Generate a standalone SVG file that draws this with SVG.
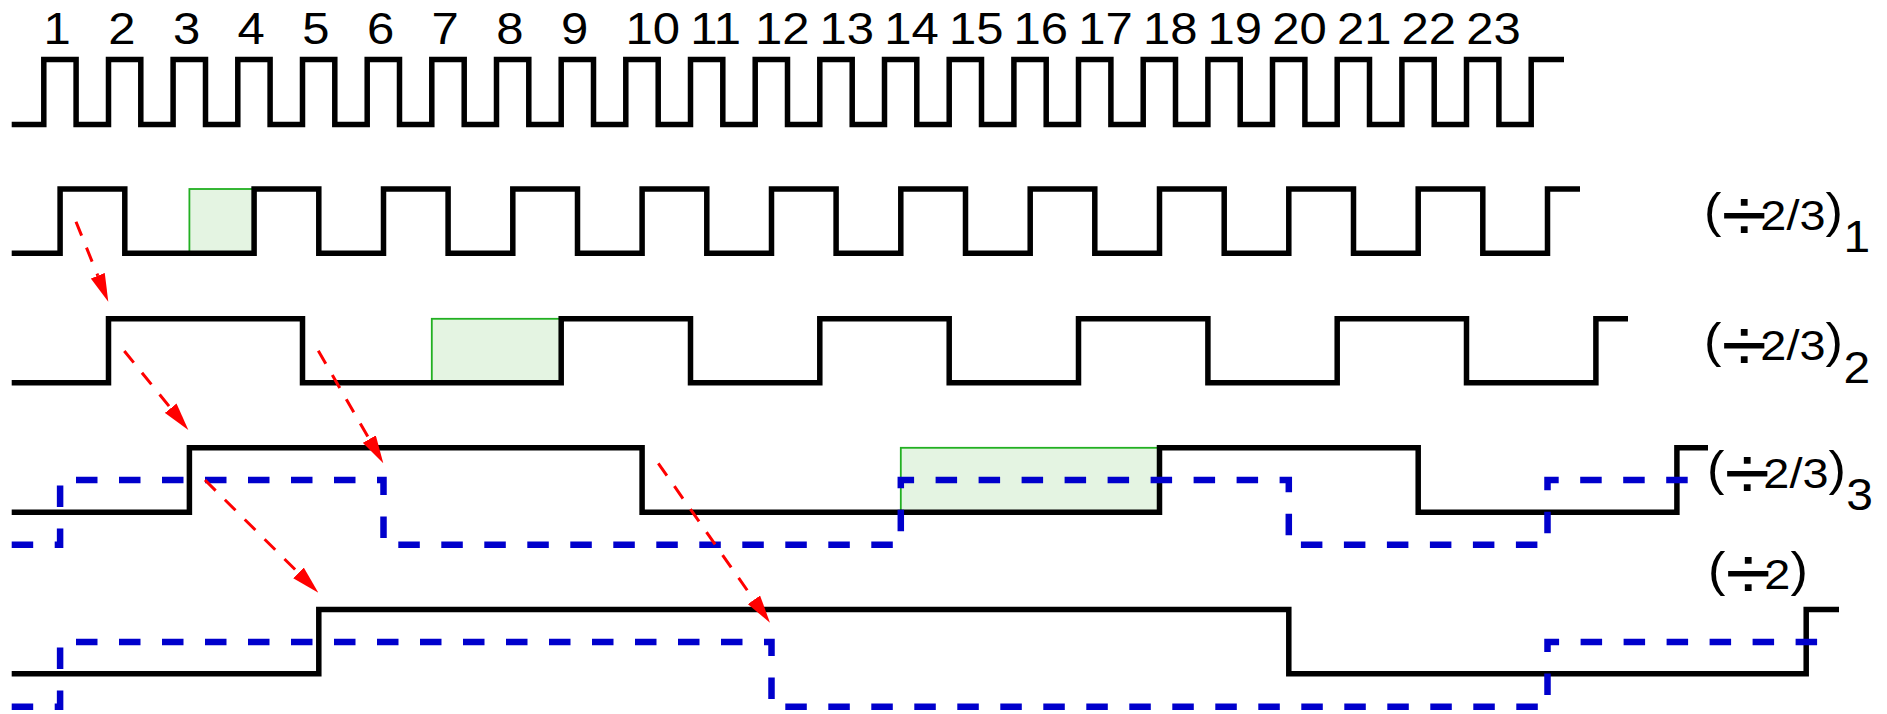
<svg xmlns="http://www.w3.org/2000/svg" width="1887" height="714" viewBox="0 0 1887 714">
  <style>
    .sig { fill: none; stroke: #000; stroke-width: 5.5; stroke-linejoin: miter; stroke-linecap: butt; }
    .alt { fill: none; stroke: #0000cc; stroke-width: 6.5; stroke-dasharray: 21.5 21.5; stroke-linecap: butt; stroke-linejoin: miter; }
    .win { fill: #e4f4e2; stroke: #22b022; stroke-width: 1.8; }
    .dep { fill: none; stroke: #ff0000; stroke-width: 3; stroke-dasharray: 15 13; }
    .n { font-family: "Liberation Sans", Arial, sans-serif; font-size: 45px; fill: #000; }
    .lbl { font-family: "Liberation Sans", Arial, sans-serif; font-size: 43px; fill: #000; }
    .par { font-size: 48px; }
    .div { font-size: 76px; letter-spacing: -6px; }
    .sub { font-size: 44px; }
  </style>
  <defs>
    <marker id="ah" markerUnits="userSpaceOnUse" viewBox="0 0 28 15" markerWidth="28" markerHeight="15" refX="0" refY="7.5" orient="auto">
      <path d="M0,0 L28,7.5 L0,15 z" fill="#ff0000"/>
    </marker>
  </defs>

  <rect width="1887" height="714" fill="#fff"/>

  <!-- input clock with cycle numbers -->
  <g id="clock">
    <g>
      <text class="n" transform="translate(43.5,43.5) scale(1.09,1)">1</text>
      <text class="n" transform="translate(108.2,43.5) scale(1.09,1)">2</text>
      <text class="n" transform="translate(172.9,43.5) scale(1.09,1)">3</text>
      <text class="n" transform="translate(237.5,43.5) scale(1.09,1)">4</text>
      <text class="n" transform="translate(302.2,43.5) scale(1.09,1)">5</text>
      <text class="n" transform="translate(366.9,43.5) scale(1.09,1)">6</text>
      <text class="n" transform="translate(431.5,43.5) scale(1.09,1)">7</text>
      <text class="n" transform="translate(496.2,43.5) scale(1.09,1)">8</text>
      <text class="n" transform="translate(560.9,43.5) scale(1.09,1)">9</text>
      <text class="n" transform="translate(625.5,43.5) scale(1.09,1)">10</text>
      <text class="n" transform="translate(690.2,43.5) scale(1.09,1)">11</text>
      <text class="n" transform="translate(754.9,43.5) scale(1.09,1)">12</text>
      <text class="n" transform="translate(819.5,43.5) scale(1.09,1)">13</text>
      <text class="n" transform="translate(884.2,43.5) scale(1.09,1)">14</text>
      <text class="n" transform="translate(948.9,43.5) scale(1.09,1)">15</text>
      <text class="n" transform="translate(1013.6,43.5) scale(1.09,1)">16</text>
      <text class="n" transform="translate(1078.2,43.5) scale(1.09,1)">17</text>
      <text class="n" transform="translate(1142.9,43.5) scale(1.09,1)">18</text>
      <text class="n" transform="translate(1207.6,43.5) scale(1.09,1)">19</text>
      <text class="n" transform="translate(1272.2,43.5) scale(1.09,1)">20</text>
      <text class="n" transform="translate(1336.9,43.5) scale(1.09,1)">21</text>
      <text class="n" transform="translate(1401.6,43.5) scale(1.09,1)">22</text>
      <text class="n" transform="translate(1466.2,43.5) scale(1.09,1)">23</text>
    </g>
    <path class="sig" d="M11.7,124.5 H43.8 V59.5 H76.1 V124.5 H108.5 V59.5 H140.8 V124.5 H173.1 V59.5 H205.5 V124.5 H237.8 V59.5 H270.1 V124.5 H302.5 V59.5 H334.8 V124.5 H367.2 V59.5 H399.5 V124.5 H431.8 V59.5 H464.2 V124.5 H496.5 V59.5 H528.8 V124.5 H561.2 V59.5 H593.5 V124.5 H625.8 V59.5 H658.2 V124.5 H690.5 V59.5 H722.8 V124.5 H755.2 V59.5 H787.5 V124.5 H819.8 V59.5 H852.2 V124.5 H884.5 V59.5 H916.8 V124.5 H949.2 V59.5 H981.5 V124.5 H1013.9 V59.5 H1046.2 V124.5 H1078.5 V59.5 H1110.9 V124.5 H1143.2 V59.5 H1175.5 V124.5 H1207.9 V59.5 H1240.2 V124.5 H1272.5 V59.5 H1304.9 V124.5 H1337.2 V59.5 H1369.5 V124.5 H1401.9 V59.5 H1434.2 V124.5 H1466.5 V59.5 H1498.9 V124.5 H1531.2 V59.5 H1564"/>
  </g>

  <!-- first 2/3 stage -->
  <g id="stage1">
    <rect class="win" x="189.4" y="189" width="64.7" height="64.3"/>
    <path class="sig" d="M11.7,253.3 H60.1 V189 H124.8 V253.3 H254.1 V189 H318.8 V253.3 H383.5 V189 H448.1 V253.3 H512.8 V189 H577.5 V253.3 H642.1 V189 H706.8 V253.3 H771.5 V189 H836.1 V253.3 H900.8 V189 H965.5 V253.3 H1030.2 V189 H1094.8 V253.3 H1159.5 V189 H1224.2 V253.3 H1288.8 V189 H1353.5 V253.3 H1418.2 V189 H1482.8 V253.3 H1547.5 V189 H1580"/>
    <text class="lbl" transform="translate(1704,230) scale(1.09,1)"><tspan class="par" dy="-3">(</tspan><tspan class="div" dy="13.6">÷</tspan><tspan dy="-10.6">2/3</tspan><tspan class="par" dy="-3">)</tspan><tspan class="sub" dx="0.5" dy="24.7">1</tspan></text>
  </g>

  <!-- second 2/3 stage -->
  <g id="stage2">
    <rect class="win" x="431.8" y="318.8" width="129.4" height="64"/>
    <path class="sig" d="M11.7,382.8 H108.5 V318.8 H302.5 V382.8 H561.2 V318.8 H690.5 V382.8 H819.8 V318.8 H949.2 V382.8 H1078.5 V318.8 H1207.9 V382.8 H1337.2 V318.8 H1466.5 V382.8 H1595.9 V318.8 H1628"/>
    <text class="lbl" transform="translate(1704,360) scale(1.09,1)"><tspan class="par" dy="-3">(</tspan><tspan class="div" dy="13.6">÷</tspan><tspan dy="-10.6">2/3</tspan><tspan class="par" dy="-3">)</tspan><tspan class="sub" dx="0.5" dy="26.3">2</tspan></text>
  </g>

  <!-- third 2/3 stage, with its alternate phase dashed -->
  <g id="stage3">
    <rect class="win" x="900.8" y="447.8" width="258.7" height="64.4"/>
    <path class="sig" d="M11.7,512.2 H189.4 V447.8 H642.1 V512.2 H1159.5 V447.8 H1418.2 V512.2 H1676.9 V447.8 H1708"/>
    <path class="alt" d="M11.7,544.7 H60.1 V480 H383.5 V544.7 H900.8 V480 H1288.8 V544.7 H1547.5 V480 H1705"/>
    <text class="lbl" transform="translate(1707,488.3) scale(1.09,1)"><tspan class="par" dy="-3">(</tspan><tspan class="div" dy="13.6">÷</tspan><tspan dy="-10.6">2/3</tspan><tspan class="par" dy="-3">)</tspan><tspan class="sub" dx="0.2" dy="24.7">3</tspan></text>
  </g>

  <!-- final divide-by-2 stage, with its alternate phase dashed -->
  <g id="stage4">
    <path class="sig" d="M11.7,673.8 H318.8 V609.5 H1288.8 V673.8 H1806.2 V609.5 H1839"/>
    <path class="alt" d="M11.7,706.7 H60.1 V642 H771.5 V706.7 H1547.5 V642 H1823"/>
    <text class="lbl" transform="translate(1708,588.5) scale(1.09,1)"><tspan class="par" dy="-3">(</tspan><tspan class="div" dy="13.6">÷</tspan><tspan dy="-10.6">2</tspan><tspan class="par" dy="-3">)</tspan></text>
  </g>

  <!-- edge dependencies between stages -->
  <g id="connectors">
    <path class="dep" d="M76,221.7 L97.8,275.7" marker-end="url(#ah)"/>
    <path class="dep" d="M124.3,351 L170.7,408.2" marker-end="url(#ah)"/>
    <path class="dep" d="M318.3,350.7 L369.3,439.1" marker-end="url(#ah)"/>
    <path class="dep" d="M205,480 L298.5,572.9" marker-end="url(#ah)"/>
    <path class="dep" d="M658.3,463.3 L753.9,599.8" marker-end="url(#ah)"/>
  </g>
</svg>
